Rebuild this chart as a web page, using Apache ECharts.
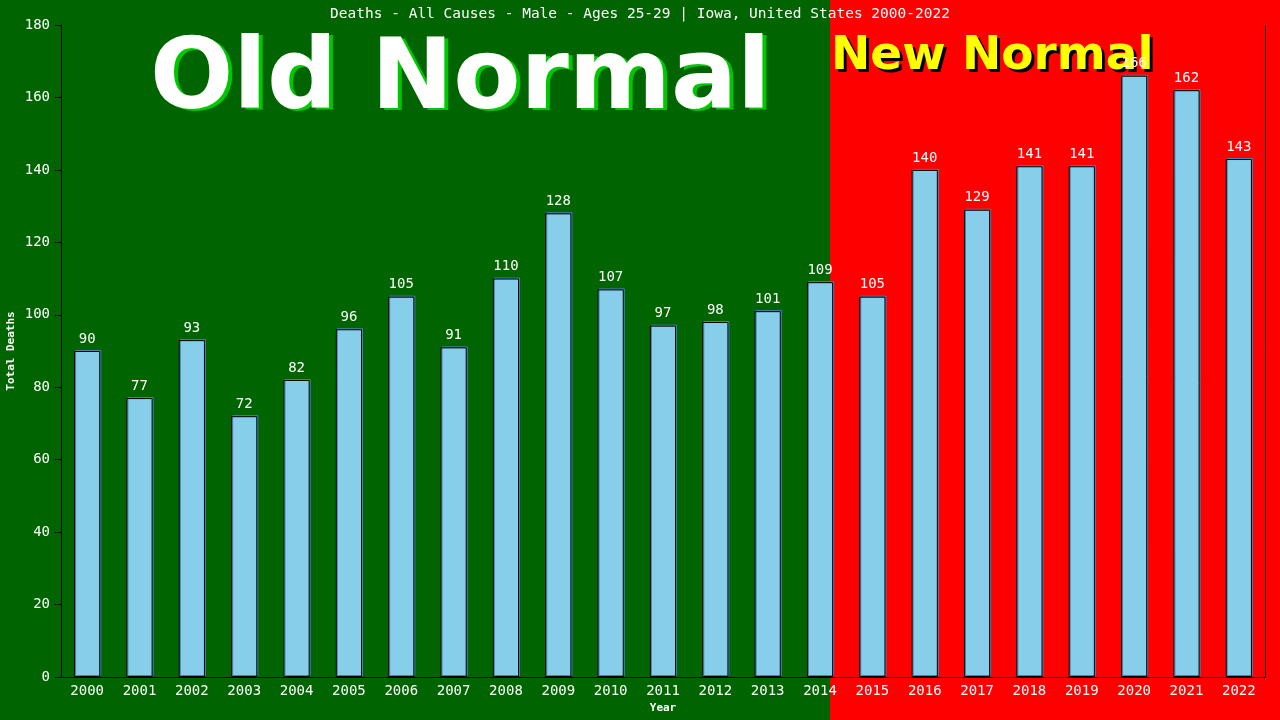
<!DOCTYPE html>
<html>
<head>
<meta charset="utf-8">
<script src="https://cdn.jsdelivr.net/npm/echarts@6/dist/echarts.min.js"></script>
<style>
html,body{margin:0;padding:0;background:#006400;}
#chart{width:1280px;height:720px;}
</style>
</head>
<body>
<div id="chart"></div>
<script>
const years = ['2000','2001','2002','2003','2004','2005','2006','2007','2008','2009','2010','2011','2012','2013','2014','2015','2016','2017','2018','2019','2020','2021','2022'];
const deaths = [90,77,93,72,82,96,105,91,110,128,107,97,98,101,109,105,140,129,141,141,166,162,143];
const yTicks = {min:0, max:180, interval:20};
const titleText = 'Deaths - All Causes - Male - Ages 25-29 | Iowa, United States 2000-2022';

const mono = '"DejaVu Sans Mono", monospace';
const chart = echarts.init(document.getElementById('chart'));
chart.setOption({
  animation:false,
  backgroundColor:'#006400',
  title:{
    text:titleText, left:'center', top:2,
    textStyle:{color:'#fff', fontFamily:mono, fontSize:14.5, fontWeight:'normal'}
  },
  graphic:[
    {type:'rect', z:-10, shape:{x:0,y:0,width:830,height:720}, style:{fill:'#006400'}, silent:true},
    {type:'rect', z:-10, shape:{x:830,y:0,width:450,height:720}, style:{fill:'#FF0000'}, silent:true},
    {type:'text', z:-5, left:154, top:36, style:{text:'Old Normal', fill:'#00C800', font:'bold 98px "DejaVu Sans"'}, silent:true},
    {type:'text', z:-4, left:150, top:34, style:{text:'Old Normal', fill:'#ffffff', font:'bold 98px "DejaVu Sans"'}, silent:true},
    {type:'text', z:-5, left:834, top:36, style:{text:'New Normal', fill:'#000000', font:'bold 47px "DejaVu Sans"'}, silent:true},
    {type:'text', z:-4, left:831, top:33, style:{text:'New Normal', fill:'#FFFF00', font:'bold 47px "DejaVu Sans"'}, silent:true}
  ],
  grid:{left:61, right:15, top:25, bottom:43, containLabel:false, outerBoundsMode:'none'},
  xAxis:{
    type:'category', data:years, boundaryGap:true,
    name:'Year', nameLocation:'middle', nameGap:26,
    nameTextStyle:{color:'#fff', fontFamily:mono, fontSize:11, fontWeight:'bold'},
    axisLine:{show:true, lineStyle:{color:'#000', width:1}},
    axisTick:{show:false},
    axisLabel:{color:'#fff', fontFamily:mono, fontSize:14, margin:7, interval:0}
  },
  yAxis:[{
    type:'value', min:yTicks.min, max:yTicks.max, interval:yTicks.interval,
    name:'Total Deaths', nameLocation:'middle', nameGap:44, nameMoveOverlap:false,
    nameTextStyle:{color:'#fff', fontFamily:mono, fontSize:11, fontWeight:'bold'},
    axisLine:{show:true, lineStyle:{color:'#000', width:1}},
    axisTick:{show:true, length:6, lineStyle:{color:'#000'}},
    axisLabel:{color:'#fff', fontFamily:mono, fontSize:14, margin:11},
    splitLine:{show:false}
  },{
    type:'value', position:'right', min:yTicks.min, max:yTicks.max, interval:yTicks.interval,
    axisLine:{show:true, lineStyle:{color:'#000', width:1}},
    axisTick:{show:false}, axisLabel:{show:false}, splitLine:{show:false}
  }],
  series:[{
    type:'bar', data:deaths, barWidth:'50%', yAxisIndex:0,
    itemStyle:{color:'#87CEEB', borderColor:'#000', borderWidth:1,
      shadowColor:'#4682B4', shadowOffsetX:1, shadowOffsetY:-1, shadowBlur:0},
    label:{show:true, position:'top', distance:5, color:'#fff', fontFamily:mono, fontSize:14}
  }]
});
</script>
</body>
</html>
